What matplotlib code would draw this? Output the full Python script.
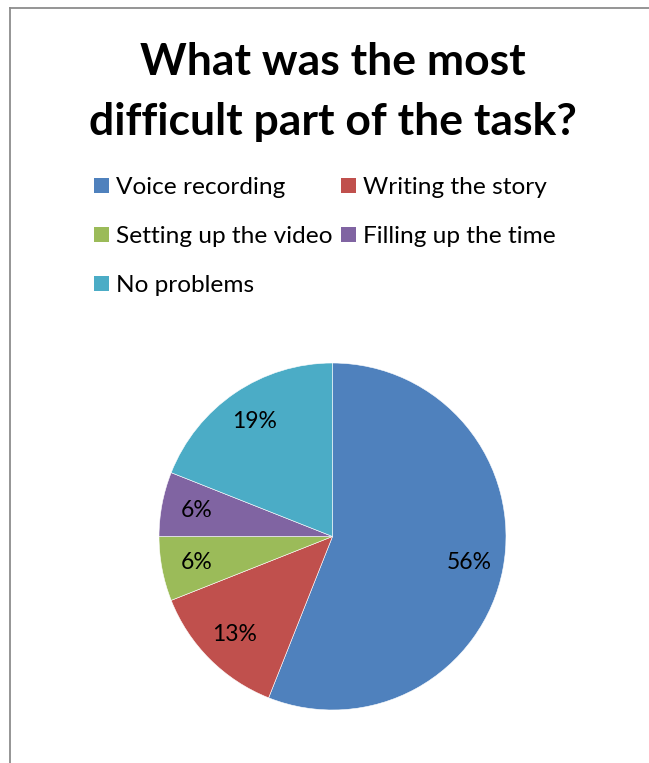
import matplotlib
matplotlib.use("Agg")
import matplotlib.pyplot as plt
from matplotlib.patches import Patch
from matplotlib.lines import Line2D

categories = ["Voice recording", "Writing the story", "Setting up the video",
              "Filling up the time", "No problems"]
values = [56, 13, 6, 6, 19]
colors = ["#4F81BD", "#C0504D", "#9BBB59", "#8064A2", "#4BACC6"]
title = "What was the most\ndifficult part of the task?"

plt.rcParams['font.family'] = ['Lato', 'DejaVu Sans']

W, H = 649, 763
fig = plt.figure(figsize=(W / 100, H / 100), dpi=100)

# pie axes: centre (332.5, 536.5), radius 173.5 px
cx, cy, r = 332.5, 536.5, 173.5
ax = fig.add_axes([(cx - r) / W, (H - cy - r) / H, 2 * r / W, 2 * r / H])
wedges, texts, autotexts = ax.pie(
    values, colors=colors, startangle=90, counterclock=False,
    autopct='%.0f%%', pctdistance=0.8, radius=1,
    wedgeprops=dict(edgecolor='white', linewidth=0.4),
    textprops=dict(fontsize=16.5, color='black'))
ax.set_xlim(-1, 1)
ax.set_ylim(-1, 1)
ax.axis('off')

fig.text(333 / W, 1 - 92 / H, title, ha='center', va='center',
         fontsize=32, fontweight='bold', linespacing=1.6)

handles = [Patch(facecolor=c, edgecolor='none') for c in colors]
order = [0, 2, 4, 1, 3]
fig.legend([handles[i] for i in order], [categories[i] for i in order],
           ncol=2, loc='upper left', bbox_to_anchor=(94 / W, 1 - 177 / H),
           frameon=False, fontsize=17.6, handlelength=0.6, handleheight=0.6,
           handletextpad=0.3, columnspacing=0.35, labelspacing=1.15,
           borderaxespad=0, borderpad=0)

# chart border (left and top)
fig.add_artist(Line2D([9.5 / W, 9.5 / W], [0, 1 - 7.5 / H], color='#8C8C8C',
                      linewidth=1.3, transform=fig.transFigure))
fig.add_artist(Line2D([9.5 / W, 1], [1 - 7.5 / H, 1 - 7.5 / H], color='#8C8C8C',
                      linewidth=1.3, transform=fig.transFigure))

fig.savefig("out.png", dpi=100)
